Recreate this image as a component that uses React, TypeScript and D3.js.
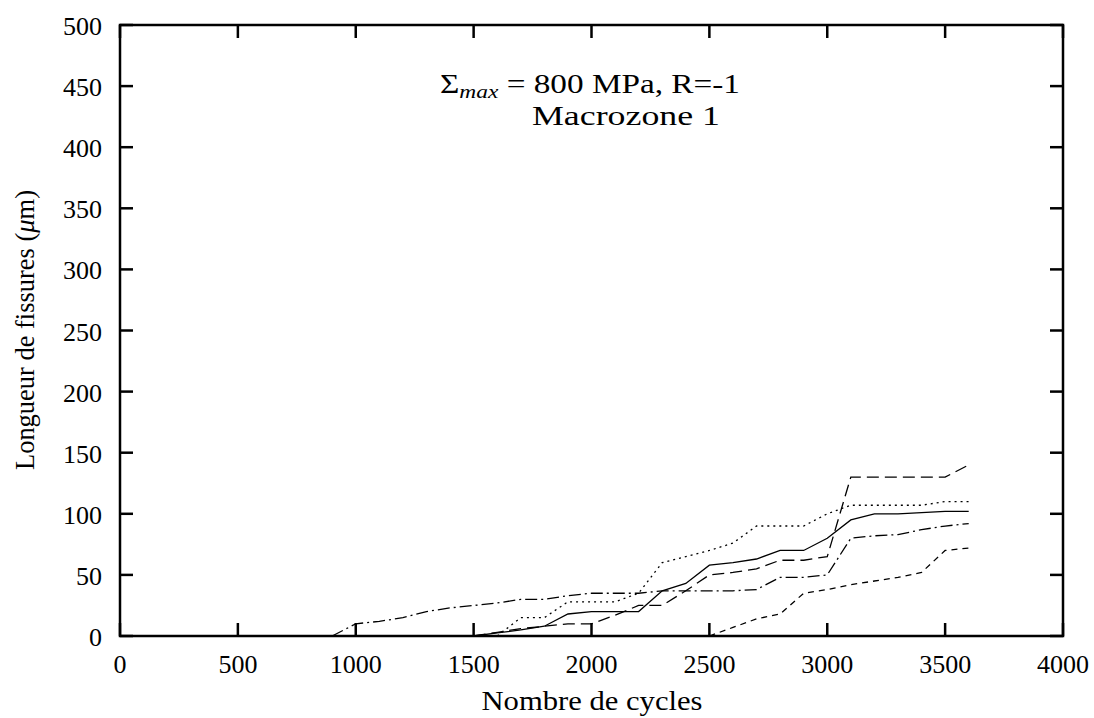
import React from "react";
import * as d3 from "d3";

const cycles = [900, 1000, 1100, 1200, 1300, 1400, 1500, 1600, 1700, 1800, 1900, 2000, 2100, 2200, 2300, 2400, 2500, 2600, 2700, 2800, 2900, 3000, 3100, 3200, 3300, 3400, 3500, 3600];

// null = no value (series not started yet)
const solidSeries = [null, null, null, null, null, null, 0, 2.5, 5, 8, 18, 20, 20, 20, 37, 43, 58, 60, 63, 70, 70, 80, 95, 100, 100, 101, 102, 102];
const dottedSeries = [null, null, null, null, null, null, null, 0, 15, 15, 28, 28, 28, 35, 60, 65, 70, 76, 90, 90, 90, 100, 107, 107, 107, 107, 110, 110];
const longDashSeries = [null, null, null, null, null, null, 0, 3, 6, 8, 10, 10, 17, 25, 25, 37, 50, 52, 55, 62, 62, 65, 130, 130, 130, 130, 130, 140];
const dashDotSeries = [0, 10, 12, 15, 20, 23, 25, 27, 30, 30, 33, 35, 35, 35, 37, 37, 37, 37, 38, 48, 48, 50, 80, 82, 83, 87, 90, 92];
const shortDashSeries = [null, null, null, null, null, null, null, null, null, null, null, null, null, null, null, null, 0, 7, 14, 18, 35, 38, 42, 45, 48, 52, 70, 72];

const xTicks = [0, 500, 1000, 1500, 2000, 2500, 3000, 3500, 4000];
const yTicks = [0, 50, 100, 150, 200, 250, 300, 350, 400, 450, 500];

const seriesList = [
  { values: solidSeries, dash: "none" },
  { values: dottedSeries, dash: "2,4" },
  { values: longDashSeries, dash: "12,6" },
  { values: dashDotSeries, dash: "12,4,2,4" },
  { values: shortDashSeries, dash: "6,5" },
];

const W = 1094;
const H = 718;
const L = 120, R = 1063, T = 25, B = 636;
const FONT = "'Liberation Serif', 'Times New Roman', serif";

export default function App() {
  const x = d3.scaleLinear().domain([0, 4000]).range([L, R]);
  const y = d3.scaleLinear().domain([0, 500]).range([B, T]);
  const line = d3
    .line<[number, number | null]>()
    .defined((d) => d[1] !== null)
    .x((d) => x(d[0]))
    .y((d) => y(d[1] as number));
  const tick = 13;
  return (
    <svg width={W} height={H} style={{ position: "absolute", left: 0, top: 0, background: "#fff" }}>
      <rect x={0} y={0} width={W} height={H} fill="#fff" />
      {seriesList.map((s, i) => (
        <path
          key={i}
          d={line(cycles.map((c, j) => [c, s.values[j]] as [number, number | null])) || ""}
          fill="none"
          stroke="#000"
          strokeWidth={1.3}
          strokeDasharray={s.dash}
        />
      ))}
      {/* frame */}
      <rect x={L} y={T} width={R - L} height={B - T} fill="none" stroke="#000" strokeWidth={2.5} />
      {xTicks.map((t) => (
        <g key={"x" + t}>
          <line x1={x(t)} x2={x(t)} y1={B} y2={B - tick} stroke="#000" strokeWidth={2.5} />
          <line x1={x(t)} x2={x(t)} y1={T} y2={T + tick} stroke="#000" strokeWidth={2.5} />
          <text x={x(t)} y={673} textAnchor="middle" fontFamily={FONT} fontSize={26}>
            {t}
          </text>
        </g>
      ))}
      {yTicks.map((t) => (
        <g key={"y" + t}>
          <line x1={L} x2={L + tick} y1={y(t)} y2={y(t)} stroke="#000" strokeWidth={2.5} />
          <line x1={R} x2={R - tick} y1={y(t)} y2={y(t)} stroke="#000" strokeWidth={2.5} />
          <text x={102} y={y(t) + 10} textAnchor="end" fontFamily={FONT} fontSize={26}>
            {t}
          </text>
        </g>
      ))}
      <text x={592} y={710} textAnchor="middle" fontFamily={FONT} fontSize={27} textLength={221} lengthAdjust="spacingAndGlyphs">
        Nombre de cycles
      </text>
      <text
        transform={`translate(34,330) rotate(-90)`}
        textAnchor="middle"
        fontFamily={FONT}
        fontSize={27}
        textLength={280}
        lengthAdjust="spacingAndGlyphs"
      >
        Longueur de fissures (<tspan fontStyle="italic">μ</tspan>m)
      </text>
      <text x={590} y={93} textAnchor="middle" fontFamily={FONT} fontSize={27} textLength={300} lengthAdjust="spacingAndGlyphs">
        Σ<tspan fontStyle="italic" fontSize={19} dy={5}>max</tspan>
        <tspan dy={-5}> = 800 MPa, R=-1</tspan>
      </text>
      <text x={626} y={125} textAnchor="middle" fontFamily={FONT} fontSize={27} textLength={188} lengthAdjust="spacingAndGlyphs">
        Macrozone 1
      </text>
    </svg>
  );
}
